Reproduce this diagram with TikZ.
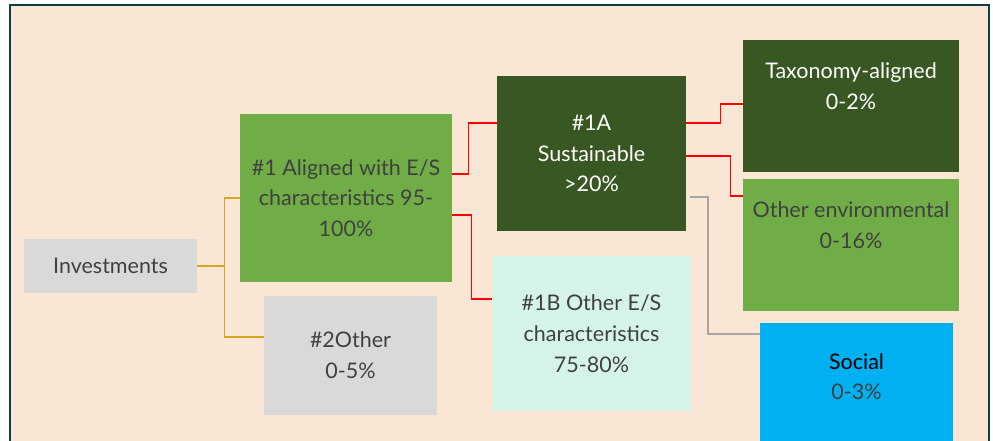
\documentclass[tikz,border=0pt]{standalone}
\usepackage{fontspec}
\setmainfont{Lato}

\definecolor{peach}{HTML}{FAE6D4}
\definecolor{framecol}{HTML}{0E3B4C}
\definecolor{boxgray}{HTML}{D9D9D9}
\definecolor{leaf}{HTML}{70AD47}
\definecolor{forest}{HTML}{385723}
\definecolor{mint}{HTML}{D5F3E6}
\definecolor{sky}{HTML}{00B0F0}
\definecolor{txtgray}{HTML}{404040}
\definecolor{gold}{HTML}{D9A521}
\definecolor{linegray}{HTML}{A6A6A6}

\begin{document}
\begin{tikzpicture}[x=1pt, y=-1pt,
    box/.style={rectangle, inner sep=0pt, align=center, text=txtgray,
      font=\fontsize{21.5}{30.7}\selectfont},
    goldline/.style={draw=gold, line width=1.3pt},
    redline/.style={draw=red, line width=1.3pt},
    grayline/.style={draw=linegray, line width=1.5pt}]

  \useasboundingbox (0,0) rectangle (993,441);
  \draw[framecol, line width=2.5pt, fill=peach] (10,5) rectangle (989,480);

  \node[box, fill=boxgray, minimum width=173pt, minimum height=54pt] (inv) at (110.5,266) {Investments};

  \node[box, fill=leaf, minimum width=212pt, minimum height=168pt] (al) at (346,198) {\#1 Aligned with E/S\\characteristics 95-\\100\%};
  \node[box, fill=boxgray, minimum width=173pt, minimum height=119pt] (oth) at (350.5,355.5) {\#2Other\\0-5\%};

  \node[box, fill=forest, text=white, minimum width=189pt, minimum height=155pt] (s1a) at (591.5,153.5) {\#1A\\Sustainable\\>20\%};
  \node[box, fill=mint, minimum width=199pt, minimum height=155pt] (s1b) at (591.5,333.5) {\#1B Other E/S\\characteristics\\75-80\%};

  \node[box, fill=forest, text=white, minimum width=216pt, minimum height=132pt] (tax) at (851,106) {Taxonomy-aligned\\0-2\%\\\strut};
  \node[box, fill=leaf, minimum width=216pt, minimum height=132pt] (env) at (851,245) {Other environmental\\0-16\%\\\strut};
  \node[box, fill=sky, minimum width=193pt, minimum height=137pt] (soc) at (856.5,391.5) {\textcolor{black}{Social}\\0-3\%\\[-10pt]\strut};

  \draw[goldline] (inv.east) -- ++(27,0) |- (al.west);
  \draw[goldline] (inv.east) -- ++(27,0) |- ([yshift=18.5pt]oth.west);

  \draw[redline] ([yshift=24pt]al.east) -- ++(16,0) |- ([yshift=30.5pt]s1a.west);
  \draw[redline] ([yshift=-17pt]al.east) -- ++(19,0) |- ([yshift=34.5pt]s1b.west);

  \draw[redline] ([yshift=30.5pt]s1a.east) -- ++(34,0) |- ([yshift=2pt]tax.west);
  \draw[redline] ([yshift=-2.5pt]s1a.east) -- ++(44,0) |- ([yshift=49pt]env.west);
  \draw[grayline] ([xshift=4pt,yshift=-43.5pt]s1a.east) -- ++(18,0) |- ([yshift=-11pt]soc.north west);
\end{tikzpicture}
\end{document}
